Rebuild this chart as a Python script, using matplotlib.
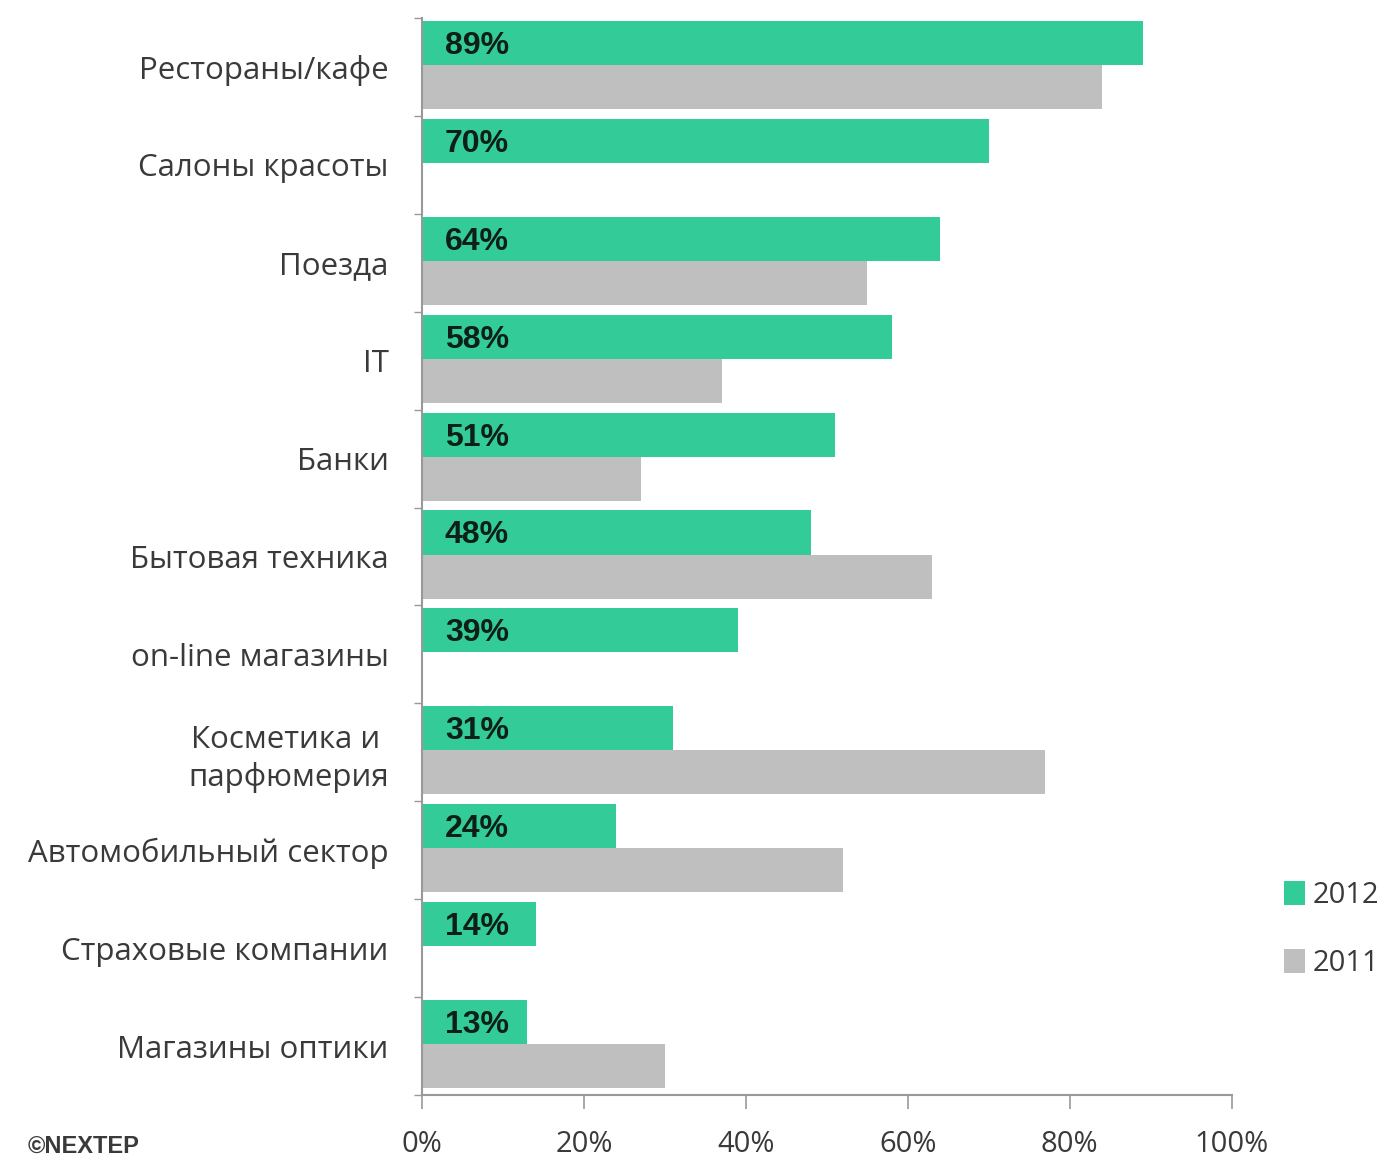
import matplotlib
matplotlib.use("Agg")
import matplotlib.pyplot as plt
import numpy as np

categories = [
    "Рестораны/кафе",
    "Салоны красоты",
    "Поезда",
    "IT",
    "Банки",
    "Бытовая техника",
    "on-line магазины",
    "Косметика и \nпарфюмерия",
    "Автомобильный сектор",
    "Страховые компании",
    "Магазины оптики",
]
values_2012 = [89, 70, 64, 58, 51, 48, 39, 31, 24, 14, 13]
values_2011 = [84, 0, 55, 37, 27, 63, 0, 77, 52, 0, 30]
x_ticks = [0, 20, 40, 60, 80, 100]
x_tick_labels = ["0%", "20%", "40%", "60%", "80%", "100%"]

green = "#33CC99"
grey = "#BFBFBF"
text_col = "#3a3a3a"
label_font = ["Open Sans", "DejaVu Sans"]

fig = plt.figure(figsize=(13.98, 11.62), dpi=100)
ax = fig.add_axes([0.302, 0.0577, 0.579, 0.9268])

n = len(categories)
pos = np.arange(n)
h = 0.45
ax.barh(pos - h / 2 - 0.02, values_2012, height=h, color=green, label="2012")
ax.barh(pos + h / 2 - 0.02, values_2011, height=h, color=grey, label="2011")

for p, v in zip(pos, values_2012):
    ax.text(2.8, p - h / 2 + 0.01, f"{v}%", ha="left", va="center",
            fontsize=23, fontweight="bold", color="#0d1f16",
            family=["Liberation Sans", "DejaVu Sans"])

ax.set_xlim(0, 100)
ax.set_ylim(n - 0.5, -0.5)
ax.set_xticks(x_ticks)
ax.set_xticklabels(x_tick_labels, fontsize=21, color=text_col, family=label_font)
ax.set_yticks(pos)
ax.set_yticklabels(categories, fontsize=22.5, color=text_col, family=label_font,
                   linespacing=1.3)
ax.tick_params(axis="y", length=0, pad=24)
ax.tick_params(axis="x", length=10, width=1.2, color="#999999", pad=15)

# minor ticks on category boundaries
ax.set_yticks(np.arange(-0.5, n, 1.0), minor=True)
ax.tick_params(axis="y", which="minor", length=6, color="#999999", width=1)

for s in ["top", "right"]:
    ax.spines[s].set_visible(False)
for s in ["left", "bottom"]:
    ax.spines[s].set_color("#999999")
    ax.spines[s].set_linewidth(1.5)

handles, labels = ax.get_legend_handles_labels()
fig.legend(handles, labels, loc="center left", bbox_to_anchor=(0.9, 0.2),
           frameon=False, handlelength=0.7, handleheight=0.9,
           handletextpad=0.25, labelspacing=1.35,
           prop={"family": label_font, "size": 21}, labelcolor=text_col)

fig.text(0.02, 0.004, "©NEXTEP", fontsize=17, fontweight="bold",
         color=text_col, family=["Liberation Sans", "DejaVu Sans"],
         ha="left", va="bottom")

fig.savefig("out.png", dpi=100, facecolor="white")
